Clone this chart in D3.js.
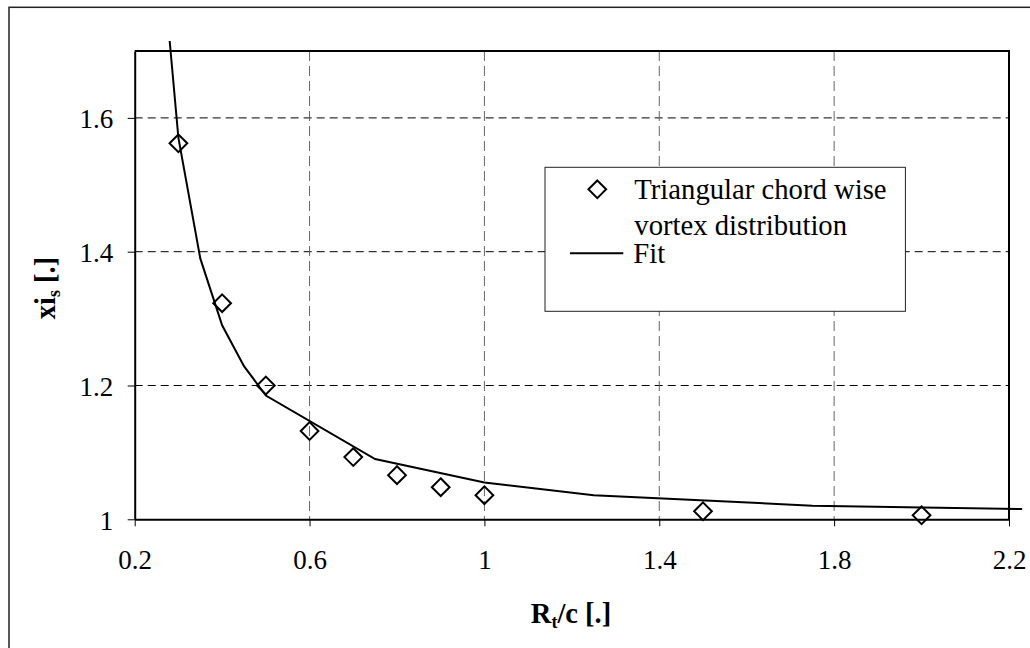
<!DOCTYPE html>
<html>
<head>
<meta charset="utf-8">
<script src="https://cdn.jsdelivr.net/npm/d3@7"></script>
<style>
  html, body { margin: 0; padding: 0; background: #fff; }
  svg { display: block; }
  text { font-family: "Liberation Serif", "Times New Roman", serif; fill: #000; }
</style>
</head>
<body>
<svg id="chart" width="1030" height="648"></svg>
<script>
// Blade tip ratio R_t/c against xi_s
const ratio = [0.3, 0.4, 0.5, 0.6, 0.7, 0.8, 0.9, 1.0, 1.5, 2.0];
const xiS   = [1.562, 1.323, 1.200, 1.132, 1.093, 1.066, 1.048, 1.036, 1.012, 1.006];

// Fitted curve vertices
const fitRatio = [0.28, 0.3, 0.35, 0.4, 0.45, 0.5, 0.75, 1.0, 1.25, 1.75, 2.23];
const fitXi    = [1.715, 1.57, 1.39, 1.29, 1.229, 1.185, 1.09, 1.055, 1.036, 1.0204, 1.0154];

const xTicks = [0.2, 0.6, 1.0, 1.4, 1.8, 2.2];
const xTickLabels = ["0.2", "0.6", "1", "1.4", "1.8", "2.2"];
const yTicks = [1.0, 1.2, 1.4, 1.6];
const yTickLabels = ["1", "1.2", "1.4", "1.6"];

const legendLabels = ["Triangular chord wise", "vortex distribution", "Fit"];

const svg = d3.select("#chart");

const plot = { left: 134.7, right: 1009, top: 51, bottom: 519.3 };

const x = d3.scaleLinear().domain([0.2, 2.2]).range([plot.left, plot.right]);
const y = d3.scaleLinear().domain([1, 1.7]).range([plot.bottom, plot.top]);

// Outer chart frame
svg.append("rect")
  .attr("x", 9).attr("y", 7.3)
  .attr("width", 1040).attr("height", 660)
  .attr("fill", "#fff").attr("stroke", "#222").attr("stroke-width", 1.5);

// Gridlines
const grid = svg.append("g");
grid.selectAll("line.hg")
  .data(yTicks.filter(v => v > 1))
  .join("line")
  .attr("x1", plot.left).attr("x2", plot.right)
  .attr("y1", d => y(d)).attr("y2", d => y(d))
  .attr("stroke", "#000").attr("stroke-width", 1)
  .attr("stroke-dasharray", "8,5");
grid.selectAll("line.vg")
  .data(xTicks.filter(v => v > 0.2 && v < 2.2))
  .join("line")
  .attr("x1", d => x(d)).attr("x2", d => x(d))
  .attr("y1", plot.top).attr("y2", plot.bottom)
  .attr("stroke", "#666").attr("stroke-width", 1)
  .attr("stroke-dasharray", "10,5");

// Plot border (top and right)
svg.append("path")
  .attr("d", `M${plot.left},${plot.top}H${plot.right}V${plot.bottom}`)
  .attr("fill", "none").attr("stroke", "#000").attr("stroke-width", 2);

// Axes
const xAxis = svg.append("g")
  .attr("transform", `translate(0,${plot.bottom})`)
  .call(d3.axisBottom(x).tickValues(xTicks).tickSize(7).tickSizeOuter(0)
    .tickFormat((d, i) => xTickLabels[i]));
xAxis.select(".domain").attr("stroke", "#000").attr("stroke-width", 2);
xAxis.selectAll(".tick line").attr("stroke", "#000").attr("stroke-width", 1);
xAxis.selectAll(".tick text")
  .attr("y", 49.4).attr("dy", 0)
  .attr("font-size", 27)
  .attr("font-family", "Liberation Serif, serif");

const yAxis = svg.append("g")
  .attr("transform", `translate(${plot.left},0)`)
  .call(d3.axisLeft(y).tickValues(yTicks).tickSize(7).tickSizeOuter(0)
    .tickFormat((d, i) => yTickLabels[i]));
yAxis.select(".domain").attr("stroke", "#000").attr("stroke-width", 2);
yAxis.selectAll(".tick line").attr("stroke", "#000").attr("stroke-width", 1);
yAxis.selectAll(".tick text")
  .attr("x", -21.4).attr("dy", "0.37em")
  .attr("font-size", 27)
  .attr("font-family", "Liberation Serif, serif");

// Fit curve
const fitData = fitRatio.map((r, i) => [r, fitXi[i]]);
svg.append("path")
  .datum(fitData)
  .attr("d", d3.line().x(d => x(d[0])).y(d => y(d[1])))
  .attr("fill", "none").attr("stroke", "#000").attr("stroke-width", 2);

// Diamond markers
const diamond = d3.symbol().type(d3.symbolDiamond2).size(200);
const ptData = ratio.map((r, i) => [r, xiS[i]]);
svg.append("g").selectAll("path")
  .data(ptData)
  .join("path")
  .attr("transform", d => `translate(${x(d[0])},${y(d[1])})`)
  .attr("d", diamond)
  .attr("fill", "none").attr("stroke", "#000").attr("stroke-width", 2);

// Legend
const lg = svg.append("g");
lg.append("rect")
  .attr("x", 545).attr("y", 167.3).attr("width", 360.4).attr("height", 144)
  .attr("fill", "#fff").attr("stroke", "#222").attr("stroke-width", 1);
lg.append("path")
  .attr("transform", "translate(597.3,189.3)")
  .attr("d", diamond)
  .attr("fill", "none").attr("stroke", "#000").attr("stroke-width", 2);
lg.append("text").attr("x", 634.3).attr("y", 199.3).attr("font-size", 28.7).text(legendLabels[0]);
lg.append("text").attr("x", 634.3).attr("y", 235).attr("font-size", 28.7).text(legendLabels[1]);
lg.append("line")
  .attr("x1", 570).attr("x2", 623.3).attr("y1", 253.3).attr("y2", 253.3)
  .attr("stroke", "#000").attr("stroke-width", 2);
lg.append("text").attr("x", 633.3).attr("y", 263.3).attr("font-size", 28.7).text(legendLabels[2]);

// Axis titles
const xt = svg.append("text")
  .attr("x", 571).attr("y", 623.3)
  .attr("text-anchor", "middle")
  .attr("font-size", 28.5).attr("font-weight", "bold");
xt.append("tspan").text("R");
xt.append("tspan").attr("font-size", 18).attr("dy", 5).text("t");
xt.append("tspan").attr("dy", -5).text("/c [.]");

const yt = svg.append("text")
  .attr("transform", "translate(55,288) rotate(-90)")
  .attr("text-anchor", "middle")
  .attr("font-size", 28.5).attr("font-weight", "bold");
yt.append("tspan").text("xi");
yt.append("tspan").attr("font-size", 18).attr("dy", 5).text("s");
yt.append("tspan").attr("dy", -5).text(" [.]");
</script>
</body>
</html>
